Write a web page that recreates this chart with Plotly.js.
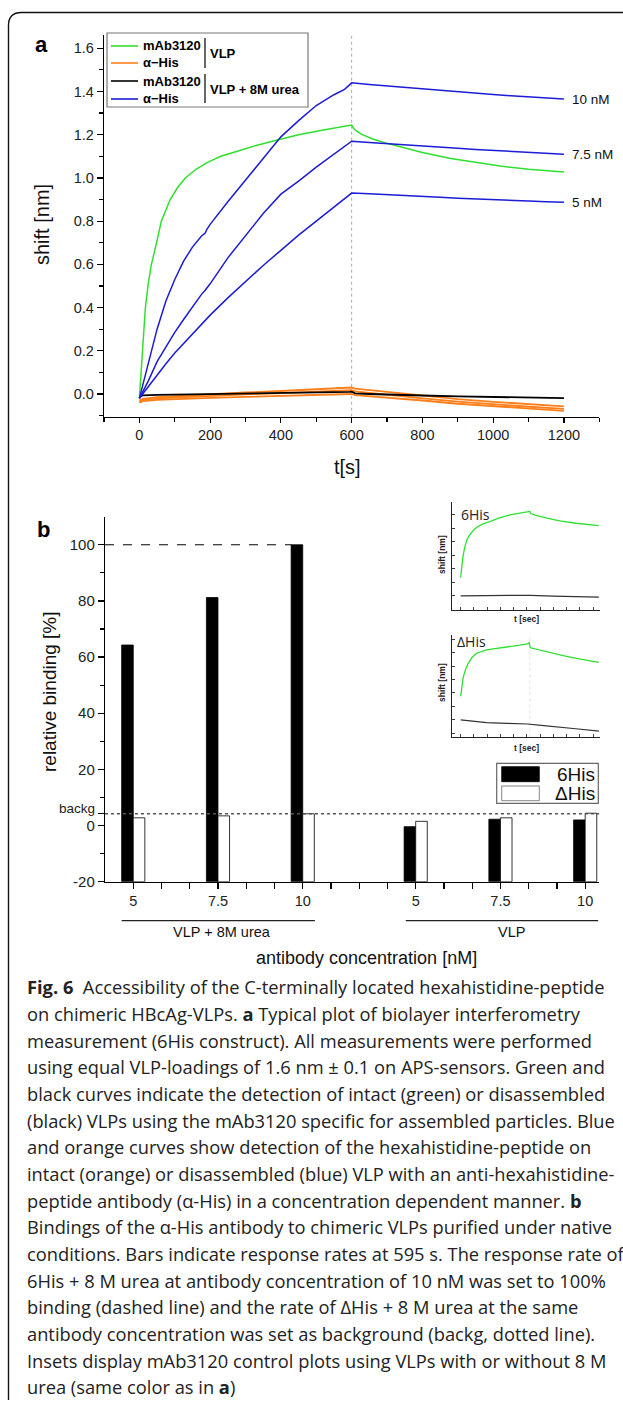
<!DOCTYPE html>
<html><head><meta charset="utf-8">
<script src="https://cdn.plot.ly/plotly-3.0.1.min.js"></script>
<style>html,body{margin:0;padding:0;background:#fff;}#chart{width:623px;height:1404px;}</style>
</head><body><div id="chart"></div>
<script>
// ---------- Panel a data (BLI sensorgrams) ----------
const tGreen = [0,5,10,17,25,34,50,62,87,110,130,160,190,230,270,330,390,450,520,590,600,605,615,630,660,700,750,800,880,950,1020,1100,1200];
const greenVLP = [-0.02,0.10,0.21,0.40,0.51,0.60,0.71,0.80,0.90,0.96,1.00,1.04,1.07,1.10,1.12,1.15,1.175,1.20,1.222,1.242,1.245,1.23,1.215,1.20,1.18,1.16,1.138,1.118,1.09,1.072,1.055,1.04,1.027];

const tBlue = [0,25,50,75,100,125,150,175,186,190,200,250,300,350,400,450,500,550,580,590,600,650,700,750,800,850,900,950,1000,1050,1100,1150,1200];
const blue10 = [-0.02,0.14,0.30,0.43,0.53,0.615,0.68,0.73,0.745,0.76,0.785,0.89,0.99,1.095,1.19,1.265,1.335,1.385,1.41,1.425,1.44,1.432,1.425,1.418,1.412,1.405,1.398,1.392,1.386,1.38,1.375,1.37,1.365];
const blue75 = [-0.02,0.06,0.15,0.22,0.285,0.345,0.405,0.46,0.48,0.49,0.51,0.63,0.735,0.835,0.925,0.985,1.05,1.11,1.15,1.16,1.17,1.164,1.158,1.152,1.147,1.142,1.137,1.132,1.127,1.122,1.118,1.114,1.11];
const blue5 = [-0.02,0.035,0.09,0.14,0.19,0.235,0.28,0.325,0.34,0.35,0.365,0.445,0.52,0.595,0.665,0.735,0.80,0.865,0.905,0.915,0.93,0.927,0.922,0.918,0.914,0.91,0.906,0.902,0.899,0.896,0.893,0.89,0.887];

const tLow = [0,10,50,100,200,300,400,500,595,600,610,650,700,800,900,1000,1100,1200];
const blackUrea = [-0.015,-0.006,-0.004,-0.003,0.0,0.002,0.004,0.006,0.01,0.011,0.003,0.0,-0.003,-0.007,-0.011,-0.014,-0.017,-0.019];
const orange10 = [-0.03,-0.022,-0.015,-0.01,-0.001,0.007,0.014,0.021,0.028,0.03,0.025,0.018,0.01,-0.01,-0.024,-0.036,-0.047,-0.057];
const orange75 = [-0.035,-0.027,-0.02,-0.016,-0.009,-0.002,0.004,0.01,0.016,0.018,0.012,0.005,-0.003,-0.02,-0.035,-0.048,-0.059,-0.069];
const orange5 = [-0.04,-0.033,-0.027,-0.023,-0.018,-0.013,-0.009,-0.005,-0.001,0.0,-0.005,-0.01,-0.016,-0.03,-0.045,-0.057,-0.068,-0.078];
const concLabels = ["10 nM","7.5 nM","5 nM"];

// ---------- Panel b data (relative binding) ----------
const barPos = [1,4,7,11,14,17];
const barTickText = ["5","7.5","10","5","7.5","10"];
const his6 = [64.3,81.2,100,-0.4,2.25,2.0];
const dHis = [2.75,3.45,4.2,1.5,2.75,4.4];
const backg = 4.2;
const groupLabels = ["VLP + 8M urea","VLP"];

// ---------- Inset data (mAb3120 controls) ----------
const tIn1G = [0,9,20,37,55,80,115,152,200,254,330,427,520,600,610,652,750,860,1000,1100,1200];
const in1Green = [0.27,0.43,0.58,0.73,0.83,0.905,0.98,1.03,1.07,1.10,1.15,1.20,1.23,1.25,1.22,1.19,1.15,1.11,1.075,1.055,1.04];
const tIn1K = [0,200,400,600,610,800,1000,1200];
const in1Black = [0.0,0.005,0.01,0.015,0.008,-0.005,-0.012,-0.02];
const tIn2G = [0,10,23,45,66,100,138,225,369,513,580,595,605,700,802,900,1004,1100,1200];
const in2Green = [0.35,0.52,0.64,0.76,0.84,0.93,0.99,1.04,1.07,1.11,1.13,1.145,1.07,1.03,0.99,0.95,0.915,0.885,0.855];
const tIn2K = [0,100,225,400,580,700,802,1000,1200];
const in2Black = [0,-0.02,-0.04,-0.05,-0.06,-0.08,-0.10,-0.13,-0.166];

// ---------- Caption ----------
const caption = [
 "<b>Fig. 6</b>\u00a0\u00a0Accessibility of the C-terminally located hexahistidine-peptide",
 "on chimeric HBcAg-VLPs. <b>a</b> Typical plot of biolayer interferometry",
 "measurement (6His construct). All measurements were performed",
 "using equal VLP-loadings of 1.6\u00a0nm\u00a0±\u00a00.1 on APS-sensors. Green and",
 "black curves indicate the detection of intact (green) or disassembled",
 "(black) VLPs using the mAb3120 specific for assembled particles. Blue",
 "and orange curves show detection of the hexahistidine-peptide on",
 "intact (orange) or disassembled (blue) VLP with an anti-hexahistidine-",
 "peptide antibody (α-His) in a concentration dependent manner. <b>b</b>",
 "Bindings of the α-His antibody to chimeric VLPs purified under native",
 "conditions. Bars indicate response rates at 595 s. The response rate of",
 "6His\u00a0+\u00a08\u00a0M urea at antibody concentration of 10 nM was set to 100%",
 "binding (dashed line) and the rate of ΔHis\u00a0+\u00a08\u00a0M urea at the same",
 "antibody concentration was set as background (backg, dotted line).",
 "Insets display mAb3120 control plots using VLPs with or without 8 M",
 "urea (same color as in <b>a</b>)"
];

// ---------- helpers ----------
const W = 623, H = 1404;
const PX = x => x / W;
const PY = y => 1 - y / H;
const ARIAL = "Liberation Sans, Arial, sans-serif";
const GREEN = "#2fe02f", BLUE = "#1c1cd6", ORANGE = "#ff7f1a";

const traces = [];
function line(x, y, color, xa, ya, w, name) {
  traces.push({type:"scatter", mode:"lines", x:x, y:y, xaxis:xa, yaxis:ya, name:name,
    line:{color:color, width:w||1.5}, hoverinfo:"skip", showlegend:false});
}
line(tLow, orange5, ORANGE, "x", "y", 1.8, "α-His VLP 5 nM");
line(tLow, orange75, ORANGE, "x", "y", 1.8, "α-His VLP 7.5 nM");
line(tLow, orange10, ORANGE, "x", "y", 1.8, "α-His VLP 10 nM");
line(tLow, blackUrea, "#000", "x", "y", 1.8, "mAb3120 VLP + 8M urea");
line(tGreen, greenVLP, GREEN, "x", "y", 1.5, "mAb3120 VLP");
line(tBlue, blue5, BLUE, "x", "y", 1.5, "α-His urea 5 nM");
line(tBlue, blue75, BLUE, "x", "y", 1.5, "α-His urea 7.5 nM");
line(tBlue, blue10, BLUE, "x", "y", 1.5, "α-His urea 10 nM");

// bars (drawn from the bottom of the axis, -20)
const BASE = -20;
traces.push({type:"bar", x:barPos, y:his6.map(v => v - BASE), base:BASE, width:0.41, offset:-0.41,
  xaxis:"x2", yaxis:"y2", name:"6His", marker:{color:"#000", line:{color:"#000", width:0.8}}, hoverinfo:"skip", showlegend:false});
traces.push({type:"bar", x:barPos, y:dHis.map(v => v - BASE), base:BASE, width:0.41, offset:0,
  xaxis:"x2", yaxis:"y2", name:"ΔHis", marker:{color:"#fff", line:{color:"#000", width:0.8}}, hoverinfo:"skip", showlegend:false});

// insets
line(tIn1G, in1Green, GREEN, "x3", "y3", 1.3, "6His mAb3120 VLP");
line(tIn1K, in1Black, "#333", "x3", "y3", 1.2, "6His mAb3120 urea");
line(tIn2G, in2Green, GREEN, "x4", "y4", 1.3, "ΔHis mAb3120 VLP");
line(tIn2K, in2Black, "#333", "x4", "y4", 1.2, "ΔHis mAb3120 urea");

const tickFontA = {family:ARIAL, size:14.5, color:"#222"};
const axA = {showgrid:false, zeroline:false, showline:true, linecolor:"#000", linewidth:1.2,
  ticks:"outside", tickcolor:"#000", tickwidth:1.2};

const layout = {
  width:W, height:H, margin:{l:0,r:0,t:0,b:0}, paper_bgcolor:"#fff", plot_bgcolor:"rgba(0,0,0,0)",
  showlegend:false, barmode:"overlay",
  xaxis: Object.assign({}, axA, {domain:[PX(104), PX(599.3)], range:[-100,1300], tick0:0, dtick:200, ticklen:5,
    minor:{dtick:100, tick0:0, ticklen:4, ticks:"outside", tickcolor:"#000", tickwidth:1.2}, tickfont:tickFontA, anchor:"y"}),
  yaxis: Object.assign({}, axA, {domain:[PY(416.7), PY(35.3)], range:[-0.105,1.66], tick0:0, dtick:0.2, ticklen:6, tickformat:".1f",
    minor:{dtick:0.1, tick0:0, ticklen:3.5, ticks:"outside", tickcolor:"#000", tickwidth:1.2}, tickfont:tickFontA, anchor:"x"}),
  xaxis2: Object.assign({}, axA, {domain:[PX(105), PX(599.3)], range:[0,17.5], tickmode:"array",
    tickvals:[1,2,3,4,5,6,7,8,9,10,11,12,13,14,15,16,17],
    ticktext:[1,2,3,4,5,6,7,8,9,10,11,12,13,14,15,16,17].map(v => { const i = barPos.indexOf(v); return i >= 0 ? barTickText[i] : ""; }),
    ticklen:6, tickfont:{family:ARIAL, size:14.5, color:"#222"}, anchor:"y2"}),
  yaxis2: Object.assign({}, axA, {domain:[PY(881.7), PY(516.7)], range:[-20,110], tickmode:"array",
    tickvals:[-20,0,backg,20,40,60,80,100], ticktext:["-20","0","","20","40","60","80","100"], ticklen:6,
    minor:{tickmode:"array", tickvals:[-10,10,30,50,70,90], ticklen:4, ticks:"outside", tickcolor:"#000", tickwidth:1.2},
    tickfont:{family:ARIAL, size:15, color:"#222"}, anchor:"x2"}),
  xaxis3: {domain:[PX(452), PX(600)], range:[-75,1210], showgrid:false, zeroline:false, showline:true, linecolor:"#222", linewidth:1,
    ticks:"inside", ticklen:3, dtick:115, tick0:0, tickcolor:"#444", showticklabels:false, anchor:"y3"},
  yaxis3: {domain:[PY(610), PY(502)], range:[-0.21,1.39], showgrid:false, zeroline:false, showline:true, linecolor:"#222", linewidth:1,
    ticks:"inside", ticklen:3, dtick:0.2, tick0:0, tickcolor:"#444", showticklabels:false, anchor:"x3"},
  xaxis4: {domain:[PX(452), PX(600)], range:[-75,1210], showgrid:false, zeroline:false, showline:true, linecolor:"#222", linewidth:1,
    ticks:"inside", ticklen:3, dtick:115, tick0:0, tickcolor:"#444", showticklabels:false, anchor:"y4"},
  yaxis4: {domain:[PY(737.3), PY(635)], range:[-0.257,1.26], showgrid:false, zeroline:false, showline:true, linecolor:"#222", linewidth:1,
    ticks:"inside", ticklen:3, dtick:0.2, tick0:0, tickcolor:"#444", showticklabels:false, anchor:"x4"},
  shapes: [], annotations: []
};

const S = layout.shapes, A = layout.annotations;
function ann(x, y, text, font, opts) {
  A.push(Object.assign({xref:"paper", yref:"paper", x:PX(x), y:PY(y), text:text, showarrow:false,
    xanchor:"center", yanchor:"middle", font:font}, opts || {}));
}
// frame with rounded top-left corner
const fx = PX(8.5), fy = PY(12.5), rx = 13/W, ry = 13/H;
S.push({type:"path", xref:"paper", yref:"paper", layer:"above",
  path:`M ${fx},${PY(1400)} L ${fx},${fy-ry} Q ${fx},${fy} ${fx+rx},${fy} L 1.01,${fy}`,
  line:{color:"#111", width:1.4}});
// panel a: dotted line at 600 s
S.push({type:"line", xref:"x", yref:"y", x0:600, x1:600, y0:-0.105, y1:1.67, line:{color:"#aaa", width:1, dash:"dot"}, layer:"below"});
// panel a legend
S.push({type:"rect", xref:"paper", yref:"paper", x0:PX(107), x1:PX(308), y0:PY(107), y1:PY(33), line:{color:"#777", width:1.2}, fillcolor:"#fff", layer:"above"});
[[46,GREEN],[63,ORANGE],[81,"#000"],[99,BLUE]].forEach(([y,c]) => {
  S.push({type:"line", xref:"paper", yref:"paper", x0:PX(111), x1:PX(138), y0:PY(y), y1:PY(y), line:{color:c, width:1.6}, layer:"above"});
});
S.push({type:"line", xref:"paper", yref:"paper", x0:PX(205), x1:PX(205), y0:PY(38), y1:PY(68), line:{color:"#000", width:1.2}, layer:"above"});
S.push({type:"line", xref:"paper", yref:"paper", x0:PX(205), x1:PX(205), y0:PY(74), y1:PY(103), line:{color:"#000", width:1.2}, layer:"above"});
const legFont = {family:ARIAL, size:13, color:"#000"};
[["<b>mAb3120</b>",46],["<b>α−His</b>",63],["<b>mAb3120</b>",81],["<b>α−His</b>",99]].forEach(([t,y]) => {
  ann(141, y, t, legFont, {xanchor:"left"});
});
ann(208, 54, "<b>VLP</b>", legFont, {xanchor:"left"});
ann(208, 90, "<b>VLP + 8M urea</b>", legFont, {xanchor:"left"});
// concentration labels
[blue10, blue75, blue5].forEach((arr, i) => {
  A.push({xref:"x", yref:"y", x:tBlue[tBlue.length-1], y:arr[arr.length-1], text:concLabels[i], showarrow:false,
    xanchor:"left", yanchor:"middle", xshift:6, font:{family:ARIAL, size:13.5, color:"#111"}});
});
// panel letters and titles
ann(41, 44, "<b>a</b>", {family:ARIAL, size:22, color:"#000"});
ann(43, 530, "<b>b</b>", {family:ARIAL, size:22, color:"#000"});
ann(42, 225, "shift [nm]", {family:ARIAL, size:20, color:"#111"}, {textangle:-90});
ann(348, 467, "t[s]", {family:ARIAL, size:20, color:"#111"});
ann(50, 692, "relative binding [%]", {family:ARIAL, size:19, color:"#111"}, {textangle:-90});
ann(366, 958, "antibody concentration [nM]", {family:ARIAL, size:18, color:"#111"});

// panel b reference lines
S.push({type:"line", xref:"x2", yref:"y2", x0:0, x1:6.6, y0:100, y1:100, line:{color:"#000", width:1, dash:"dash"}});
S.push({type:"line", xref:"x2", yref:"y2", x0:0, x1:17.5, y0:backg, y1:backg, line:{color:"#555", width:1.3, dash:"dot"}});
// backg label on the y axis
A.push({xref:"paper", yref:"y2", x:PX(97), y:backg, text:"backg", showarrow:false, xanchor:"right", yanchor:"middle", yshift:5,
  font:{family:ARIAL, size:13.5, color:"#222"}});
// group underlines and labels
S.push({type:"line", xref:"x2", yref:"paper", x0:0.59, x1:7.43, y0:PY(920.7), y1:PY(920.7), line:{color:"#222", width:1.2}});
S.push({type:"line", xref:"x2", yref:"paper", x0:10.65, x1:17.46, y0:PY(920.7), y1:PY(920.7), line:{color:"#222", width:1.2}});
A.push({xref:"x2", yref:"paper", x:4.13, y:PY(932), text:groupLabels[0], showarrow:false, xanchor:"center", yanchor:"middle", font:{family:ARIAL, size:14.5, color:"#111"}});
A.push({xref:"x2", yref:"paper", x:14.38, y:PY(932), text:groupLabels[1], showarrow:false, xanchor:"center", yanchor:"middle", font:{family:ARIAL, size:14.5, color:"#111"}});
// panel b legend
S.push({type:"rect", xref:"paper", yref:"paper", x0:PX(496.7), x1:PX(598.3), y0:PY(803.3), y1:PY(763.3), line:{color:"#666", width:1.2}, fillcolor:"#fff"});
S.push({type:"rect", xref:"paper", yref:"paper", x0:PX(501.7), x1:PX(539.3), y0:PY(781.7), y1:PY(766.7), line:{color:"#000", width:0.8}, fillcolor:"#000"});
S.push({type:"rect", xref:"paper", yref:"paper", x0:PX(501.7), x1:PX(539.3), y0:PY(800.7), y1:PY(786), line:{color:"#666", width:0.8}, fillcolor:"#fff"});
ann(597, 774, "6His", {family:ARIAL, size:19, color:"#111"}, {xanchor:"right"});
ann(597, 793.5, "ΔHis", {family:ARIAL, size:19, color:"#111"}, {xanchor:"right"});

// inset decorations
S.push({type:"line", xref:"x4", yref:"y4", x0:600, x1:600, y0:-0.257, y1:1.26, line:{color:"#ddd", width:0.8, dash:"dot"}, layer:"below"});
const inTitle = {family:ARIAL, size:8.5, color:"#222"};
const inLab = {family:"Open Sans, Noto Sans, sans-serif", size:14, color:"#222"};
ann(459, 515, "6His", inLab, {xanchor:"left"});
ann(455, 642, "ΔHis", inLab, {xanchor:"left"});
ann(526, 619, "<b>t [sec]</b>", inTitle);
ann(526, 748, "<b>t [sec]</b>", inTitle);
ann(442, 555, "<b>shift [nm]</b>", inTitle, {textangle:-90});
ann(442, 683, "<b>shift [nm]</b>", inTitle, {textangle:-90});

// caption
caption.forEach((t, i) => {
  ann(25, 986.7 + i*26.67, t, {family:"Open Sans, Noto Sans, sans-serif", size:18.3, color:"#222"}, {xanchor:"left"});
});

Plotly.newPlot("chart", traces, layout, {staticPlot:true, displayModeBar:false});
</script></body></html>
